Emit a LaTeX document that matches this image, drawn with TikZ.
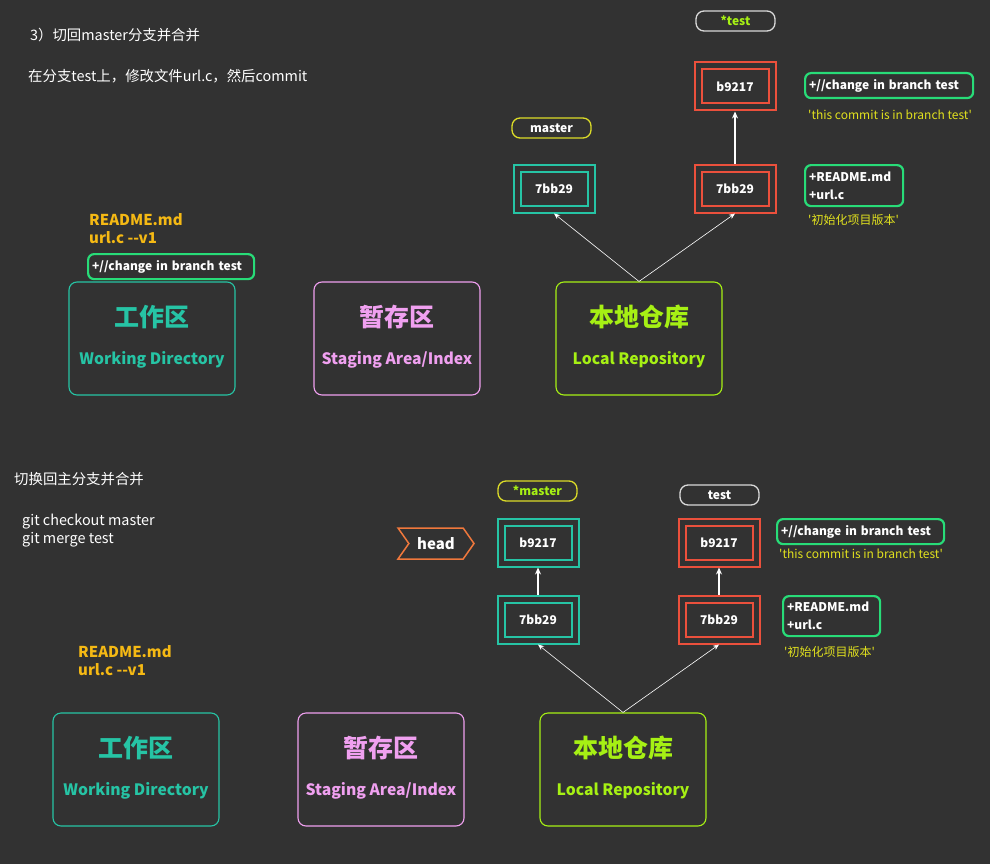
\documentclass[tikz,border=0pt]{standalone}
\usepackage{fontspec}
\setmainfont{Noto Sans CJK SC}
\usetikzlibrary{arrows.meta,shapes.symbols}
\definecolor{bg}{RGB}{50,50,50}
\definecolor{wdteal}{RGB}{38,196,165}
\definecolor{stpink}{RGB}{240,160,240}
\definecolor{replime}{RGB}{166,240,20}
\definecolor{testred}{RGB}{235,80,60}
\definecolor{notegreen}{RGB}{40,220,120}
\definecolor{msgyellow}{RGB}{225,225,30}
\definecolor{fileorange}{RGB}{245,185,20}
\definecolor{headorange}{RGB}{240,120,60}
\definecolor{pillyellow}{RGB}{220,220,40}

\begin{document}
\begin{tikzpicture}[x=1pt,y=-1pt,
  area/.style={draw=#1,rounded corners=8pt,line width=1.1pt,minimum width=166pt,minimum height=113pt},
  atitle/.style={font=\fontsize{25}{28}\selectfont\bfseries,text=#1},
  asub/.style={font=\fontsize{15.7}{19}\selectfont\bfseries,text=#1},
  commit/.style={draw=#1,line width=2pt,double=bg,double distance=5pt,minimum width=74pt,minimum height=41pt,outer sep=4.5pt,text=white,font=\fontsize{12}{15}\selectfont\bfseries},
  branch/.style={draw=#1,rounded corners=8pt,line width=1.3pt,minimum width=79pt,minimum height=20pt,inner sep=0pt,font=\fontsize{12}{15}\selectfont\bfseries},
  note/.style={draw=notegreen,rounded corners=6pt,line width=2.2pt,inner xsep=4pt,inner ysep=2pt,text width=#1,align=left,anchor=north west,text=white,font=\fontsize{12}{18}\selectfont\bfseries},
  msg/.style={anchor=west,inner sep=0pt,text=msgyellow,font=\fontsize{12}{14}\selectfont},
  files/.style={anchor=west,inner sep=0pt,align=left,text=fileorange,font=\fontsize{15}{18}\selectfont\bfseries},
  plain/.style={anchor=west,inner sep=0pt,align=left,text=white,font=\fontsize{14.4}{18}\selectfont},
  headtag/.style={signal,signal to=east,signal from=west,signal pointer angle=110,draw=headorange,line width=1.5pt,minimum width=76pt,minimum height=31pt,text=white,font=\fontsize{15}{18}\selectfont\bfseries},
  link/.style={draw=white,line width=0.6pt,-{Stealth[length=6pt,width=5pt]}},
  parent/.style={draw=white,line width=1.3pt,-{Stealth[length=7pt,width=6pt]}}]
  % background
  \fill[bg] (0,0) rectangle (990,864);

  % ---------- upper part: commit on test ----------
  \node[plain] (step3) at (30,35) {3）切回master分支并合并};
  \node[plain] (stepinfo) at (28,76) {在分支test上，修改文件url.c，然后commit};
  \node[files] (tfiles) at (89,229) {README.md\\url.c -{}-v1};
  \node[note=158pt,minimum height=25pt] (twnote) at (87,253) {+//change in branch test};
  % areas
  \node[area=wdteal] (twork) at (152,338.5) {};
  \node[area=stpink] (tstage) at (397,338.5) {};
  \node[area=replime] (trepo) at (639,338.5) {};
  \foreach \a/\c/\t/\s in {twork/wdteal/工作区/Working Directory,tstage/stpink/暂存区/Staging Area\slash Index,trepo/replime/本地仓库/Local Repository}{
    \node[atitle=\c] at ([yshift=21.5pt]\a.center) {\t};
    \node[asub=\c] at ([yshift=-21pt]\a.center) {\s};
  }
  % commits
  \node[commit=wdteal] (tM1) at (554,188.5) {7bb29};
  \node[commit=testred] (tT1) at (735,188.5) {7bb29};
  \node[commit=testred] (tT2) at (735,86.5) {b9217};
  \node[branch=pillyellow,text=white] (tmaster) at (551.5,128) {master};
  \node[branch=white!85!black,text=replime] (ttest) at (735.5,21) {*test};
  \draw[parent] (tT1) -- (tT2);
  \draw[link] (trepo.north) -- (tM1.south);
  \draw[link] (trepo.north) -- (tT1.south);
  % commit notes
  \node[note=160pt,minimum height=25pt] (tn2) at (804,72) {+//change in branch test};
  \node[msg] (tm2) at (808,115) {\textquotesingle this commit is in branch test\textquotesingle};
  \node[note=90pt,minimum height=41pt] (tn1) at (804,164) {+README.md\\+url.c};
  \node[msg] (tm1) at (808,220) {\textquotesingle 初始化项目版本\textquotesingle};

  % ---------- lower part: merge into master ----------
  \node[plain] (merge) at (14,479) {切换回主分支并合并};
  \node[plain] (cmds) at (22,531) {git checkout master\\git merge test};
  \node[files] (bfiles) at (78,661) {README.md\\url.c -{}-v1};
  % areas
  \node[area=wdteal] (bwork) at (136,769.5) {};
  \node[area=stpink] (bstage) at (381,769.5) {};
  \node[area=replime] (brepo) at (623,769.5) {};
  \foreach \a/\c/\t/\s in {bwork/wdteal/工作区/Working Directory,bstage/stpink/暂存区/Staging Area\slash Index,brepo/replime/本地仓库/Local Repository}{
    \node[atitle=\c] at ([yshift=21.5pt]\a.center) {\t};
    \node[asub=\c] at ([yshift=-21pt]\a.center) {\s};
  }
  % commits
  \node[commit=wdteal] (bM1) at (538,619.5) {7bb29};
  \node[commit=wdteal] (bM2) at (538,542.5) {b9217};
  \node[commit=testred] (bT1) at (719,619.5) {7bb29};
  \node[commit=testred] (bT2) at (719,542.5) {b9217};
  \node[branch=pillyellow,text=replime] (bmaster) at (537.5,491) {*master};
  \node[branch=white!85!black,text=white] (btest) at (719.5,495) {test};
  \node[headtag] (head) at (436,543.5) {head};
  \draw[parent] (bM1) -- (bM2);
  \draw[parent] (bT1) -- (bT2);
  \draw[link] (brepo.north) -- (bM1.south);
  \draw[link] (brepo.north) -- (bT1.south);
  % commit notes
  \node[note=159pt,minimum height=25pt] (bn2) at (776,518) {+//change in branch test};
  \node[msg] (bm2) at (779,554) {\textquotesingle this commit is in branch test\textquotesingle};
  \node[note=89pt,minimum height=40pt] (bn1) at (782,595) {+README.md\\+url.c};
  \node[msg] (bm1) at (784,652) {\textquotesingle 初始化项目版本\textquotesingle};
\end{tikzpicture}
\end{document}
